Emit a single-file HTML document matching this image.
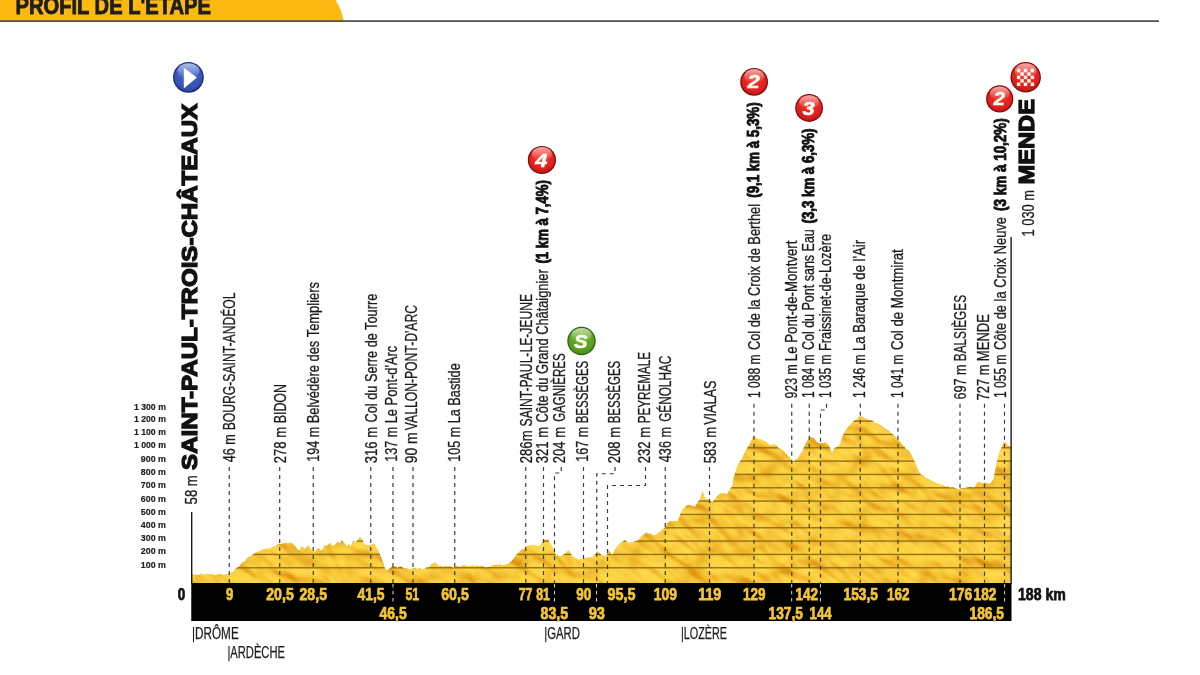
<!DOCTYPE html><html lang="fr"><head><meta charset="utf-8"><title>Profil de l'étape</title>
<style>html,body{margin:0;padding:0;background:#fff}body{width:1200px;height:675px;overflow:hidden;position:relative}svg{position:absolute;left:0;top:0;display:block}text{font-family:'Liberation Sans', sans-serif}</style></head><body>
<svg width="1200" height="675" viewBox="0 0 1200 675">
<defs>
<linearGradient id="gy" x1="0" y1="0" x2="0" y2="1"><stop offset="0" stop-color="#f7cb35"/><stop offset="1" stop-color="#f1bd22"/></linearGradient>
<radialGradient id="gr" cx="0.5" cy="0.35" r="0.7"><stop offset="0" stop-color="#f2352c"/><stop offset="0.7" stop-color="#e21f1d"/><stop offset="1" stop-color="#b81216"/></radialGradient>
<linearGradient id="gl" x1="0" y1="0" x2="0" y2="1"><stop offset="0" stop-color="#fff" stop-opacity="0.6"/><stop offset="1" stop-color="#fff" stop-opacity="0"/></linearGradient>
<radialGradient id="gb" cx="0.5" cy="0.35" r="0.7"><stop offset="0" stop-color="#4c6ccc"/><stop offset="0.7" stop-color="#3854b6"/><stop offset="1" stop-color="#27409a"/></radialGradient>
<radialGradient id="gg" cx="0.5" cy="0.35" r="0.7"><stop offset="0" stop-color="#72b52c"/><stop offset="0.7" stop-color="#5b9f20"/><stop offset="1" stop-color="#468416"/></radialGradient>
<filter id="relief" x="0" y="0" width="100%" height="100%" color-interpolation-filters="sRGB"><feTurbulence type="fractalNoise" baseFrequency="0.032 0.06" numOctaves="2" seed="11" result="n"/><feDiffuseLighting in="n" surfaceScale="5.2" diffuseConstant="1" lighting-color="#fff" result="l"><feDistantLight azimuth="215" elevation="68"/></feDiffuseLighting><feColorMatrix in="l" type="matrix" values="0.35 0 0 0 0.652  0 0.7 0 0 0.15  0 0 0.6 0 -0.312  0 0 0 0 1"/></filter>
<clipPath id="cp"><path d="M191.50 584.00L191.50 574.25L192.82 574.45L194.14 574.64L195.46 574.72L196.79 574.96L198.11 574.63L199.43 574.93L200.75 573.50L202.07 574.19L203.39 574.96L204.71 574.49L206.04 574.89L207.36 573.63L208.68 574.20L210.00 574.25L211.67 574.09L213.33 574.82L215.00 575.00L216.40 575.04L217.80 574.06L219.20 574.31L220.60 574.33L222.00 574.60L223.45 575.20L224.90 574.89L226.35 573.85L227.80 574.80L229.25 574.25L230.75 572.67L232.25 572.44L233.75 571.25L235.31 569.22L236.88 567.58L238.44 567.53L240.00 565.50L241.50 563.54L243.00 562.04L244.50 561.77L246.00 560.10L247.50 558.00L249.00 556.66L250.50 556.74L252.00 555.06L253.50 554.28L255.00 553.00L256.40 551.83L257.80 552.31L259.20 551.21L260.60 550.95L262.00 549.50L263.33 550.05L264.67 549.01L266.00 549.03L267.33 548.63L268.67 548.52L270.00 549.00L271.67 547.30L273.33 546.68L275.00 546.00L276.67 545.50L278.33 543.87L280.00 544.00L281.67 543.95L283.33 543.07L285.00 543.00L286.40 542.70L287.80 543.51L289.20 542.97L290.60 542.71L292.00 543.00L293.50 544.47L295.00 546.00L296.50 548.33L298.00 550.00L300.00 550.00L302.00 546.00L304.00 549.00L306.00 548.00L308.50 545.50L311.00 549.00L313.00 551.50L315.50 551.50L318.00 548.00L319.50 548.79L321.00 551.00L323.00 549.00L324.50 545.50L326.25 546.01L328.00 545.00L330.00 543.00L332.50 546.00L335.00 545.00L336.50 543.00L338.25 542.24L340.00 543.00L342.00 540.50L344.50 543.50L347.00 546.50L349.00 544.00L350.50 547.00L352.50 542.50L353.50 541.00L355.50 543.00L358.00 539.50L360.00 537.00L362.50 539.50L364.00 544.00L365.75 544.90L367.50 545.00L370.00 545.50L371.50 545.05L373.00 543.50L374.50 544.23L376.00 546.50L378.50 551.50L381.00 557.00L383.50 564.00L385.00 569.00L386.50 569.96L388.00 570.00L389.50 568.54L391.00 567.63L392.50 566.25L394.17 566.05L395.83 566.69L397.50 568.00L399.38 566.61L401.25 566.25L403.12 568.23L405.00 568.75L406.50 568.26L408.00 569.16L409.50 569.44L411.00 569.46L412.50 568.75L413.89 568.50L415.28 568.52L416.67 568.79L418.06 569.19L419.44 568.12L420.83 569.15L422.22 569.23L423.61 569.33L425.00 568.75L426.67 567.18L428.33 567.80L430.00 566.25L431.67 564.35L433.33 563.50L435.00 562.50L436.67 563.93L438.33 565.67L440.00 566.25L441.36 566.06L442.73 567.07L444.09 566.53L445.45 566.22L446.82 566.30L448.18 566.14L449.55 566.05L450.91 566.23L452.27 567.17L453.64 567.73L455.00 567.00L456.43 566.24L457.86 565.85L459.29 567.14L460.71 566.20L462.14 565.78L463.57 565.29L465.00 565.50L466.67 565.73L468.33 566.19L470.00 565.75L471.39 565.73L472.78 565.74L474.17 565.21L475.56 566.64L476.94 565.28L478.33 566.07L479.72 566.68L481.11 565.60L482.50 566.25L484.17 566.87L485.83 567.47L487.50 567.00L489.00 566.81L490.50 566.66L492.00 565.17L493.50 565.30L495.00 565.00L496.39 564.38L497.78 565.44L499.17 564.51L500.56 564.70L501.94 565.52L503.33 565.23L504.72 565.37L506.11 564.48L507.50 564.50L509.17 562.98L510.83 561.87L512.50 560.00L514.17 557.88L515.83 555.50L517.50 553.75L518.96 552.35L520.42 550.68L521.88 549.80L523.33 549.53L524.79 548.24L526.25 546.25L527.81 546.14L529.38 545.62L530.94 545.05L532.50 545.00L534.06 544.66L535.62 545.26L537.19 546.39L538.75 546.25L540.31 545.15L541.88 542.65L543.44 541.65L545.00 539.50L546.50 539.94L548.00 539.50L549.50 542.48L551.00 545.10L552.50 547.50L554.38 551.92L556.25 555.50L557.92 555.53L559.58 556.33L561.25 556.25L563.12 554.65L565.00 553.75L566.88 552.10L568.75 550.50L570.62 553.81L572.50 556.25L574.17 557.64L575.83 558.09L577.50 559.50L579.06 560.03L580.62 559.36L582.19 559.07L583.75 558.75L585.21 557.68L586.67 558.24L588.12 557.48L589.58 557.86L591.04 557.23L592.50 557.00L593.88 556.07L595.25 554.36L596.62 553.16L598.00 551.25L599.62 552.88L601.25 555.00L602.92 555.65L604.58 556.21L606.25 556.25L608.75 550.00L610.62 553.03L612.50 555.00L614.38 551.01L616.25 547.50L618.12 545.80L620.00 543.00L621.67 542.59L623.33 541.30L625.00 540.00L626.67 541.76L628.33 542.73L630.00 543.00L631.56 542.59L633.12 542.17L634.69 541.15L636.25 541.25L637.81 540.35L639.38 539.07L640.94 536.90L642.50 535.50L644.38 534.31L646.25 532.50L647.71 533.35L649.17 533.87L650.62 533.47L652.08 534.95L653.54 535.13L655.00 535.50L656.46 534.64L657.92 533.12L659.38 532.32L660.83 531.44L662.29 530.09L663.75 528.75L665.31 527.23L666.88 524.24L668.44 522.58L670.00 521.25L671.50 521.16L673.00 521.49L674.50 520.80L676.00 521.55L677.50 521.25L679.17 517.71L680.83 513.02L682.50 510.00L684.17 508.29L685.83 506.23L687.50 505.00L689.00 504.69L690.50 505.21L692.00 505.91L693.50 506.09L695.00 507.00L696.67 504.01L698.33 501.26L700.00 499.50L702.50 491.25L705.00 498.75L706.50 499.34L708.00 499.86L709.50 500.88L711.00 501.49L712.50 502.00L714.00 499.93L715.50 499.35L717.00 496.25L718.50 495.25L720.00 493.75L721.50 493.40L723.00 493.61L724.50 493.13L726.00 494.28L727.50 493.75L729.17 491.05L730.83 488.01L732.50 486.25L733.75 477.50L735.62 472.06L737.50 466.25L739.17 462.69L740.83 460.49L742.50 457.50L744.17 453.91L745.83 450.96L747.50 447.50L749.06 445.30L750.62 442.13L752.19 438.56L753.75 435.75L755.62 437.75L757.50 438.75L759.00 439.48L760.50 439.54L762.00 439.68L763.50 440.90L765.00 441.25L766.67 442.60L768.33 444.48L770.00 445.00L771.67 445.58L773.33 444.84L775.00 444.50L776.67 445.68L778.33 447.96L780.00 448.75L781.56 449.20L783.12 450.62L784.69 452.61L786.25 453.75L787.81 455.81L789.38 456.93L790.94 459.58L792.50 461.25L794.17 461.04L795.83 459.38L797.50 458.75L799.17 456.14L800.83 453.31L802.50 451.25L804.38 446.54L806.25 442.50L807.88 440.51L809.50 437.00L810.92 436.97L812.33 438.07L813.75 437.50L815.62 440.66L817.50 442.50L819.00 443.28L820.50 443.75L822.00 442.78L823.50 443.35L825.00 442.00L826.88 443.49L828.75 445.00L830.38 449.24L832.00 453.75L833.50 450.34L835.00 447.50L836.67 447.44L838.33 445.82L840.00 445.00L841.88 439.03L843.75 433.75L845.42 431.21L847.08 428.15L848.75 426.25L850.31 424.88L851.88 423.03L853.44 421.23L855.00 420.00L856.38 419.51L857.75 418.65L859.12 416.41L860.50 416.25L861.94 416.93L863.38 417.14L864.81 418.82L866.25 418.75L867.75 419.85L869.25 419.64L870.75 420.33L872.25 420.80L873.75 422.00L875.31 423.53L876.88 423.17L878.44 424.42L880.00 425.00L881.50 425.96L883.00 427.23L884.50 428.17L886.00 429.39L887.50 430.00L889.00 430.64L890.50 432.92L892.00 433.43L893.50 435.05L895.00 436.25L896.50 437.74L898.00 439.42L899.50 441.55L901.00 443.19L902.50 445.00L904.00 446.28L905.50 448.39L907.00 449.65L908.50 450.26L910.00 452.50L911.67 455.44L913.33 459.10L915.00 462.50L916.67 466.92L918.33 470.62L920.00 473.75L921.56 474.89L923.12 475.10L924.69 477.38L926.25 478.00L927.71 478.63L929.17 479.62L930.62 480.58L932.08 481.21L933.54 481.72L935.00 482.50L936.43 483.69L937.86 483.39L939.29 483.93L940.71 485.21L942.14 484.69L943.57 485.39L945.00 486.25L946.43 487.03L947.86 486.06L949.29 487.54L950.71 487.56L952.14 487.39L953.57 487.41L955.00 488.00L956.67 488.70L958.33 489.16L960.00 488.75L961.50 487.93L963.00 488.22L964.50 488.08L966.00 487.75L967.50 487.50L969.00 487.13L970.50 486.75L972.00 487.34L973.50 487.60L975.00 487.00L977.50 482.00L979.17 481.89L980.83 482.73L982.50 483.75L985.00 482.50L986.67 483.43L988.33 483.80L990.00 483.75L991.88 481.51L993.75 478.75L996.25 465.00L998.12 457.37L1000.00 451.25L1001.88 447.23L1003.75 442.50L1006.25 443.00L1007.88 445.39L1009.50 446.25L1011.00 447.00L1011.00 584.00Z"/></clipPath>
</defs>
<path d="M0 0H335.5Q341.5 9 343.5 20.6H0Z" fill="#fdb912"/>
<rect x="0" y="20.4" width="1159" height="1.35" fill="#1d1d1b"/>
<text x="15.5" y="14.3" font-size="24.4" font-weight="700" fill="#1d1d1b" stroke="#1d1d1b" stroke-width="0.9" textLength="195.5" lengthAdjust="spacingAndGlyphs">PROFIL DE L'ÉTAPE</text>
<path d="M191.50 584.00L191.50 574.25L192.82 574.45L194.14 574.64L195.46 574.72L196.79 574.96L198.11 574.63L199.43 574.93L200.75 573.50L202.07 574.19L203.39 574.96L204.71 574.49L206.04 574.89L207.36 573.63L208.68 574.20L210.00 574.25L211.67 574.09L213.33 574.82L215.00 575.00L216.40 575.04L217.80 574.06L219.20 574.31L220.60 574.33L222.00 574.60L223.45 575.20L224.90 574.89L226.35 573.85L227.80 574.80L229.25 574.25L230.75 572.67L232.25 572.44L233.75 571.25L235.31 569.22L236.88 567.58L238.44 567.53L240.00 565.50L241.50 563.54L243.00 562.04L244.50 561.77L246.00 560.10L247.50 558.00L249.00 556.66L250.50 556.74L252.00 555.06L253.50 554.28L255.00 553.00L256.40 551.83L257.80 552.31L259.20 551.21L260.60 550.95L262.00 549.50L263.33 550.05L264.67 549.01L266.00 549.03L267.33 548.63L268.67 548.52L270.00 549.00L271.67 547.30L273.33 546.68L275.00 546.00L276.67 545.50L278.33 543.87L280.00 544.00L281.67 543.95L283.33 543.07L285.00 543.00L286.40 542.70L287.80 543.51L289.20 542.97L290.60 542.71L292.00 543.00L293.50 544.47L295.00 546.00L296.50 548.33L298.00 550.00L300.00 550.00L302.00 546.00L304.00 549.00L306.00 548.00L308.50 545.50L311.00 549.00L313.00 551.50L315.50 551.50L318.00 548.00L319.50 548.79L321.00 551.00L323.00 549.00L324.50 545.50L326.25 546.01L328.00 545.00L330.00 543.00L332.50 546.00L335.00 545.00L336.50 543.00L338.25 542.24L340.00 543.00L342.00 540.50L344.50 543.50L347.00 546.50L349.00 544.00L350.50 547.00L352.50 542.50L353.50 541.00L355.50 543.00L358.00 539.50L360.00 537.00L362.50 539.50L364.00 544.00L365.75 544.90L367.50 545.00L370.00 545.50L371.50 545.05L373.00 543.50L374.50 544.23L376.00 546.50L378.50 551.50L381.00 557.00L383.50 564.00L385.00 569.00L386.50 569.96L388.00 570.00L389.50 568.54L391.00 567.63L392.50 566.25L394.17 566.05L395.83 566.69L397.50 568.00L399.38 566.61L401.25 566.25L403.12 568.23L405.00 568.75L406.50 568.26L408.00 569.16L409.50 569.44L411.00 569.46L412.50 568.75L413.89 568.50L415.28 568.52L416.67 568.79L418.06 569.19L419.44 568.12L420.83 569.15L422.22 569.23L423.61 569.33L425.00 568.75L426.67 567.18L428.33 567.80L430.00 566.25L431.67 564.35L433.33 563.50L435.00 562.50L436.67 563.93L438.33 565.67L440.00 566.25L441.36 566.06L442.73 567.07L444.09 566.53L445.45 566.22L446.82 566.30L448.18 566.14L449.55 566.05L450.91 566.23L452.27 567.17L453.64 567.73L455.00 567.00L456.43 566.24L457.86 565.85L459.29 567.14L460.71 566.20L462.14 565.78L463.57 565.29L465.00 565.50L466.67 565.73L468.33 566.19L470.00 565.75L471.39 565.73L472.78 565.74L474.17 565.21L475.56 566.64L476.94 565.28L478.33 566.07L479.72 566.68L481.11 565.60L482.50 566.25L484.17 566.87L485.83 567.47L487.50 567.00L489.00 566.81L490.50 566.66L492.00 565.17L493.50 565.30L495.00 565.00L496.39 564.38L497.78 565.44L499.17 564.51L500.56 564.70L501.94 565.52L503.33 565.23L504.72 565.37L506.11 564.48L507.50 564.50L509.17 562.98L510.83 561.87L512.50 560.00L514.17 557.88L515.83 555.50L517.50 553.75L518.96 552.35L520.42 550.68L521.88 549.80L523.33 549.53L524.79 548.24L526.25 546.25L527.81 546.14L529.38 545.62L530.94 545.05L532.50 545.00L534.06 544.66L535.62 545.26L537.19 546.39L538.75 546.25L540.31 545.15L541.88 542.65L543.44 541.65L545.00 539.50L546.50 539.94L548.00 539.50L549.50 542.48L551.00 545.10L552.50 547.50L554.38 551.92L556.25 555.50L557.92 555.53L559.58 556.33L561.25 556.25L563.12 554.65L565.00 553.75L566.88 552.10L568.75 550.50L570.62 553.81L572.50 556.25L574.17 557.64L575.83 558.09L577.50 559.50L579.06 560.03L580.62 559.36L582.19 559.07L583.75 558.75L585.21 557.68L586.67 558.24L588.12 557.48L589.58 557.86L591.04 557.23L592.50 557.00L593.88 556.07L595.25 554.36L596.62 553.16L598.00 551.25L599.62 552.88L601.25 555.00L602.92 555.65L604.58 556.21L606.25 556.25L608.75 550.00L610.62 553.03L612.50 555.00L614.38 551.01L616.25 547.50L618.12 545.80L620.00 543.00L621.67 542.59L623.33 541.30L625.00 540.00L626.67 541.76L628.33 542.73L630.00 543.00L631.56 542.59L633.12 542.17L634.69 541.15L636.25 541.25L637.81 540.35L639.38 539.07L640.94 536.90L642.50 535.50L644.38 534.31L646.25 532.50L647.71 533.35L649.17 533.87L650.62 533.47L652.08 534.95L653.54 535.13L655.00 535.50L656.46 534.64L657.92 533.12L659.38 532.32L660.83 531.44L662.29 530.09L663.75 528.75L665.31 527.23L666.88 524.24L668.44 522.58L670.00 521.25L671.50 521.16L673.00 521.49L674.50 520.80L676.00 521.55L677.50 521.25L679.17 517.71L680.83 513.02L682.50 510.00L684.17 508.29L685.83 506.23L687.50 505.00L689.00 504.69L690.50 505.21L692.00 505.91L693.50 506.09L695.00 507.00L696.67 504.01L698.33 501.26L700.00 499.50L702.50 491.25L705.00 498.75L706.50 499.34L708.00 499.86L709.50 500.88L711.00 501.49L712.50 502.00L714.00 499.93L715.50 499.35L717.00 496.25L718.50 495.25L720.00 493.75L721.50 493.40L723.00 493.61L724.50 493.13L726.00 494.28L727.50 493.75L729.17 491.05L730.83 488.01L732.50 486.25L733.75 477.50L735.62 472.06L737.50 466.25L739.17 462.69L740.83 460.49L742.50 457.50L744.17 453.91L745.83 450.96L747.50 447.50L749.06 445.30L750.62 442.13L752.19 438.56L753.75 435.75L755.62 437.75L757.50 438.75L759.00 439.48L760.50 439.54L762.00 439.68L763.50 440.90L765.00 441.25L766.67 442.60L768.33 444.48L770.00 445.00L771.67 445.58L773.33 444.84L775.00 444.50L776.67 445.68L778.33 447.96L780.00 448.75L781.56 449.20L783.12 450.62L784.69 452.61L786.25 453.75L787.81 455.81L789.38 456.93L790.94 459.58L792.50 461.25L794.17 461.04L795.83 459.38L797.50 458.75L799.17 456.14L800.83 453.31L802.50 451.25L804.38 446.54L806.25 442.50L807.88 440.51L809.50 437.00L810.92 436.97L812.33 438.07L813.75 437.50L815.62 440.66L817.50 442.50L819.00 443.28L820.50 443.75L822.00 442.78L823.50 443.35L825.00 442.00L826.88 443.49L828.75 445.00L830.38 449.24L832.00 453.75L833.50 450.34L835.00 447.50L836.67 447.44L838.33 445.82L840.00 445.00L841.88 439.03L843.75 433.75L845.42 431.21L847.08 428.15L848.75 426.25L850.31 424.88L851.88 423.03L853.44 421.23L855.00 420.00L856.38 419.51L857.75 418.65L859.12 416.41L860.50 416.25L861.94 416.93L863.38 417.14L864.81 418.82L866.25 418.75L867.75 419.85L869.25 419.64L870.75 420.33L872.25 420.80L873.75 422.00L875.31 423.53L876.88 423.17L878.44 424.42L880.00 425.00L881.50 425.96L883.00 427.23L884.50 428.17L886.00 429.39L887.50 430.00L889.00 430.64L890.50 432.92L892.00 433.43L893.50 435.05L895.00 436.25L896.50 437.74L898.00 439.42L899.50 441.55L901.00 443.19L902.50 445.00L904.00 446.28L905.50 448.39L907.00 449.65L908.50 450.26L910.00 452.50L911.67 455.44L913.33 459.10L915.00 462.50L916.67 466.92L918.33 470.62L920.00 473.75L921.56 474.89L923.12 475.10L924.69 477.38L926.25 478.00L927.71 478.63L929.17 479.62L930.62 480.58L932.08 481.21L933.54 481.72L935.00 482.50L936.43 483.69L937.86 483.39L939.29 483.93L940.71 485.21L942.14 484.69L943.57 485.39L945.00 486.25L946.43 487.03L947.86 486.06L949.29 487.54L950.71 487.56L952.14 487.39L953.57 487.41L955.00 488.00L956.67 488.70L958.33 489.16L960.00 488.75L961.50 487.93L963.00 488.22L964.50 488.08L966.00 487.75L967.50 487.50L969.00 487.13L970.50 486.75L972.00 487.34L973.50 487.60L975.00 487.00L977.50 482.00L979.17 481.89L980.83 482.73L982.50 483.75L985.00 482.50L986.67 483.43L988.33 483.80L990.00 483.75L991.88 481.51L993.75 478.75L996.25 465.00L998.12 457.37L1000.00 451.25L1001.88 447.23L1003.75 442.50L1006.25 443.00L1007.88 445.39L1009.50 446.25L1011.00 447.00L1011.00 584.00Z" fill="url(#gy)"/>
<g clip-path="url(#cp)"><rect x="-100" y="100" width="1400" height="800" transform="rotate(38 600 500)" fill="none" filter="url(#relief)"/>
<rect x="190" y="567.07" width="822" height="1.4" fill="#94700f"/>
<rect x="190" y="553.74" width="822" height="1.4" fill="#94700f"/>
<rect x="190" y="540.41" width="822" height="1.4" fill="#94700f"/>
<rect x="190" y="527.08" width="822" height="1.4" fill="#94700f"/>
<rect x="190" y="513.75" width="822" height="1.4" fill="#94700f"/>
<rect x="190" y="500.42" width="822" height="1.4" fill="#94700f"/>
<rect x="190" y="487.09" width="822" height="1.4" fill="#94700f"/>
<rect x="190" y="473.76" width="822" height="1.4" fill="#94700f"/>
<rect x="190" y="460.43" width="822" height="1.4" fill="#94700f"/>
<rect x="190" y="447.10" width="822" height="1.4" fill="#94700f"/>
<rect x="190" y="433.77" width="822" height="1.4" fill="#94700f"/>
<rect x="190" y="420.44" width="822" height="1.4" fill="#94700f"/>
</g>
<polyline points="229.25,467.00 229.25,583.00" fill="none" stroke="#3c3c3c" stroke-width="1.2" stroke-dasharray="4 4"/>
<polyline points="279.70,467.00 279.70,583.00" fill="none" stroke="#3c3c3c" stroke-width="1.2" stroke-dasharray="4 4"/>
<polyline points="313.25,467.00 313.25,583.00" fill="none" stroke="#3c3c3c" stroke-width="1.2" stroke-dasharray="4 4"/>
<polyline points="370.75,467.00 370.75,583.00" fill="none" stroke="#3c3c3c" stroke-width="1.2" stroke-dasharray="4 4"/>
<polyline points="393.00,467.00 393.00,583.00" fill="none" stroke="#3c3c3c" stroke-width="1.2" stroke-dasharray="4 4"/>
<polyline points="413.00,467.00 413.00,583.00" fill="none" stroke="#3c3c3c" stroke-width="1.2" stroke-dasharray="4 4"/>
<polyline points="454.75,467.00 454.75,583.00" fill="none" stroke="#3c3c3c" stroke-width="1.2" stroke-dasharray="4 4"/>
<polyline points="525.75,467.00 525.75,583.00" fill="none" stroke="#3c3c3c" stroke-width="1.2" stroke-dasharray="4 4"/>
<polyline points="543.50,467.00 543.50,583.00" fill="none" stroke="#3c3c3c" stroke-width="1.2" stroke-dasharray="4 4"/>
<polyline points="561.25,467.00 561.25,473.00 554.50,473.00 554.50,583.00" fill="none" stroke="#3c3c3c" stroke-width="1.2" stroke-dasharray="4 4"/>
<polyline points="583.50,467.00 583.50,583.00" fill="none" stroke="#3c3c3c" stroke-width="1.2" stroke-dasharray="4 4"/>
<polyline points="615.00,467.00 615.00,473.75 596.75,473.75 596.75,583.00" fill="none" stroke="#3c3c3c" stroke-width="1.2" stroke-dasharray="4 4"/>
<polyline points="645.50,467.00 645.50,485.50 607.50,485.50 607.50,583.00" fill="none" stroke="#3c3c3c" stroke-width="1.2" stroke-dasharray="4 4"/>
<polyline points="665.25,467.00 665.25,583.00" fill="none" stroke="#3c3c3c" stroke-width="1.2" stroke-dasharray="4 4"/>
<polyline points="709.50,467.00 709.50,583.00" fill="none" stroke="#3c3c3c" stroke-width="1.2" stroke-dasharray="4 4"/>
<polyline points="754.00,403.75 754.00,583.00" fill="none" stroke="#3c3c3c" stroke-width="1.2" stroke-dasharray="4 4"/>
<polyline points="791.75,403.75 791.75,583.00" fill="none" stroke="#3c3c3c" stroke-width="1.2" stroke-dasharray="4 4"/>
<polyline points="809.25,403.75 809.25,583.00" fill="none" stroke="#3c3c3c" stroke-width="1.2" stroke-dasharray="4 4"/>
<polyline points="826.50,403.75 826.50,410.00 820.50,410.00 820.50,583.00" fill="none" stroke="#3c3c3c" stroke-width="1.2" stroke-dasharray="4 4"/>
<polyline points="860.25,403.75 860.25,583.00" fill="none" stroke="#3c3c3c" stroke-width="1.2" stroke-dasharray="4 4"/>
<polyline points="898.00,403.75 898.00,583.00" fill="none" stroke="#3c3c3c" stroke-width="1.2" stroke-dasharray="4 4"/>
<polyline points="960.00,403.75 960.00,583.00" fill="none" stroke="#3c3c3c" stroke-width="1.2" stroke-dasharray="4 4"/>
<polyline points="984.50,403.75 984.50,583.00" fill="none" stroke="#3c3c3c" stroke-width="1.2" stroke-dasharray="4 4"/>
<polyline points="1004.50,403.75 1004.50,583.00" fill="none" stroke="#3c3c3c" stroke-width="1.2" stroke-dasharray="4 4"/>
<rect x="191.25" y="583.00" width="820.25" height="38.00" fill="#000"/>
<line x1="393.00" y1="584.00" x2="393.00" y2="602.00" stroke="#d8d8d8" stroke-width="1" stroke-dasharray="3.5 3.5"/>
<line x1="554.50" y1="584.00" x2="554.50" y2="602.00" stroke="#d8d8d8" stroke-width="1" stroke-dasharray="3.5 3.5"/>
<line x1="596.50" y1="584.00" x2="596.50" y2="602.00" stroke="#d8d8d8" stroke-width="1" stroke-dasharray="3.5 3.5"/>
<line x1="791.70" y1="584.00" x2="791.70" y2="602.00" stroke="#d8d8d8" stroke-width="1" stroke-dasharray="3.5 3.5"/>
<line x1="820.40" y1="584.00" x2="820.40" y2="602.00" stroke="#d8d8d8" stroke-width="1" stroke-dasharray="3.5 3.5"/>
<line x1="1004.60" y1="584.00" x2="1004.60" y2="602.00" stroke="#d8d8d8" stroke-width="1" stroke-dasharray="3.5 3.5"/>
<rect x="191" y="512" width="1.4" height="72" fill="#1d1d1b"/>
<rect x="1010.4" y="237" width="1.4" height="347" fill="#1d1d1b"/>
<text x="225.90" y="599.80" font-size="17" font-weight="700" fill="#f5c633" stroke="#f5c633" stroke-width="0.75" textLength="7.30" lengthAdjust="spacingAndGlyphs">9</text>
<text x="266.25" y="599.80" font-size="17" font-weight="700" fill="#f5c633" stroke="#f5c633" stroke-width="0.75" textLength="27.50" lengthAdjust="spacingAndGlyphs">20,5</text>
<text x="299.50" y="599.80" font-size="17" font-weight="700" fill="#f5c633" stroke="#f5c633" stroke-width="0.75" textLength="27.50" lengthAdjust="spacingAndGlyphs">28,5</text>
<text x="357.50" y="599.80" font-size="17" font-weight="700" fill="#f5c633" stroke="#f5c633" stroke-width="0.75" textLength="27.00" lengthAdjust="spacingAndGlyphs">41,5</text>
<text x="405.50" y="599.80" font-size="17" font-weight="700" fill="#f5c633" stroke="#f5c633" stroke-width="0.75" textLength="13.75" lengthAdjust="spacingAndGlyphs">51</text>
<text x="441.25" y="599.80" font-size="17" font-weight="700" fill="#f5c633" stroke="#f5c633" stroke-width="0.75" textLength="27.50" lengthAdjust="spacingAndGlyphs">60,5</text>
<text x="518.75" y="599.80" font-size="17" font-weight="700" fill="#f5c633" stroke="#f5c633" stroke-width="0.75" textLength="13.75" lengthAdjust="spacingAndGlyphs">77</text>
<text x="536.25" y="599.80" font-size="17" font-weight="700" fill="#f5c633" stroke="#f5c633" stroke-width="0.75" textLength="13.75" lengthAdjust="spacingAndGlyphs">81</text>
<text x="576.25" y="599.80" font-size="17" font-weight="700" fill="#f5c633" stroke="#f5c633" stroke-width="0.75" textLength="15.00" lengthAdjust="spacingAndGlyphs">90</text>
<text x="607.50" y="599.80" font-size="17" font-weight="700" fill="#f5c633" stroke="#f5c633" stroke-width="0.75" textLength="28.00" lengthAdjust="spacingAndGlyphs">95,5</text>
<text x="653.75" y="599.80" font-size="17" font-weight="700" fill="#f5c633" stroke="#f5c633" stroke-width="0.75" textLength="23.25" lengthAdjust="spacingAndGlyphs">109</text>
<text x="698.25" y="599.80" font-size="17" font-weight="700" fill="#f5c633" stroke="#f5c633" stroke-width="0.75" textLength="23.00" lengthAdjust="spacingAndGlyphs">119</text>
<text x="743.00" y="599.80" font-size="17" font-weight="700" fill="#f5c633" stroke="#f5c633" stroke-width="0.75" textLength="22.50" lengthAdjust="spacingAndGlyphs">129</text>
<text x="795.50" y="599.80" font-size="17" font-weight="700" fill="#f5c633" stroke="#f5c633" stroke-width="0.75" textLength="22.50" lengthAdjust="spacingAndGlyphs">142</text>
<text x="843.50" y="599.80" font-size="17" font-weight="700" fill="#f5c633" stroke="#f5c633" stroke-width="0.75" textLength="34.50" lengthAdjust="spacingAndGlyphs">153,5</text>
<text x="887.00" y="599.80" font-size="17" font-weight="700" fill="#f5c633" stroke="#f5c633" stroke-width="0.75" textLength="22.50" lengthAdjust="spacingAndGlyphs">162</text>
<text x="949.10" y="599.80" font-size="17" font-weight="700" fill="#f5c633" stroke="#f5c633" stroke-width="0.75" textLength="23.20" lengthAdjust="spacingAndGlyphs">176</text>
<text x="973.60" y="599.80" font-size="17" font-weight="700" fill="#f5c633" stroke="#f5c633" stroke-width="0.75" textLength="22.90" lengthAdjust="spacingAndGlyphs">182</text>
<text x="379.50" y="618.70" font-size="17" font-weight="700" fill="#f5c633" stroke="#f5c633" stroke-width="0.75" textLength="27.25" lengthAdjust="spacingAndGlyphs">46,5</text>
<text x="540.50" y="618.70" font-size="17" font-weight="700" fill="#f5c633" stroke="#f5c633" stroke-width="0.75" textLength="27.75" lengthAdjust="spacingAndGlyphs">83,5</text>
<text x="588.75" y="618.70" font-size="17" font-weight="700" fill="#f5c633" stroke="#f5c633" stroke-width="0.75" textLength="16.25" lengthAdjust="spacingAndGlyphs">93</text>
<text x="768.50" y="618.70" font-size="17" font-weight="700" fill="#f5c633" stroke="#f5c633" stroke-width="0.75" textLength="34.50" lengthAdjust="spacingAndGlyphs">137,5</text>
<text x="809.60" y="618.70" font-size="17" font-weight="700" fill="#f5c633" stroke="#f5c633" stroke-width="0.75" textLength="21.90" lengthAdjust="spacingAndGlyphs">144</text>
<text x="969.50" y="618.70" font-size="17" font-weight="700" fill="#f5c633" stroke="#f5c633" stroke-width="0.75" textLength="34.50" lengthAdjust="spacingAndGlyphs">186,5</text>
<text x="177.8" y="599.7" font-size="17" font-weight="700" fill="#111" stroke="#111" stroke-width="0.75" textLength="7.5" lengthAdjust="spacingAndGlyphs">0</text>
<text x="1018" y="599.8" font-size="17" font-weight="700" fill="#111" stroke="#111" stroke-width="0.75" textLength="47.8" lengthAdjust="spacingAndGlyphs">188 km</text>
<text x="133.90" y="410.20" font-size="9.7" font-weight="700" fill="#222" stroke="#222" stroke-width="0.2" textLength="32.00" lengthAdjust="spacingAndGlyphs">1 300 m</text>
<text x="133.90" y="421.90" font-size="9.7" font-weight="700" fill="#222" stroke="#222" stroke-width="0.2" textLength="32.00" lengthAdjust="spacingAndGlyphs">1 200 m</text>
<text x="133.90" y="435.30" font-size="9.7" font-weight="700" fill="#222" stroke="#222" stroke-width="0.2" textLength="32.00" lengthAdjust="spacingAndGlyphs">1 100 m</text>
<text x="133.90" y="448.10" font-size="9.7" font-weight="700" fill="#222" stroke="#222" stroke-width="0.2" textLength="32.00" lengthAdjust="spacingAndGlyphs">1 000 m</text>
<text x="140.80" y="461.60" font-size="9.7" font-weight="700" fill="#222" stroke="#222" stroke-width="0.2" textLength="25.10" lengthAdjust="spacingAndGlyphs">900 m</text>
<text x="140.80" y="474.90" font-size="9.7" font-weight="700" fill="#222" stroke="#222" stroke-width="0.2" textLength="25.10" lengthAdjust="spacingAndGlyphs">800 m</text>
<text x="140.80" y="488.00" font-size="9.7" font-weight="700" fill="#222" stroke="#222" stroke-width="0.2" textLength="25.10" lengthAdjust="spacingAndGlyphs">700 m</text>
<text x="140.80" y="501.70" font-size="9.7" font-weight="700" fill="#222" stroke="#222" stroke-width="0.2" textLength="25.10" lengthAdjust="spacingAndGlyphs">600 m</text>
<text x="140.80" y="514.80" font-size="9.7" font-weight="700" fill="#222" stroke="#222" stroke-width="0.2" textLength="25.10" lengthAdjust="spacingAndGlyphs">500 m</text>
<text x="140.80" y="528.30" font-size="9.7" font-weight="700" fill="#222" stroke="#222" stroke-width="0.2" textLength="25.10" lengthAdjust="spacingAndGlyphs">400 m</text>
<text x="140.80" y="541.30" font-size="9.7" font-weight="700" fill="#222" stroke="#222" stroke-width="0.2" textLength="25.10" lengthAdjust="spacingAndGlyphs">300 m</text>
<text x="140.80" y="554.40" font-size="9.7" font-weight="700" fill="#222" stroke="#222" stroke-width="0.2" textLength="25.10" lengthAdjust="spacingAndGlyphs">200 m</text>
<text x="140.80" y="567.70" font-size="9.7" font-weight="700" fill="#222" stroke="#222" stroke-width="0.2" textLength="25.10" lengthAdjust="spacingAndGlyphs">100 m</text>
<text x="192.00" y="638.70" font-size="15.6" fill="#1d1d1b" stroke="#1d1d1b" stroke-width="0.25" textLength="46.70" lengthAdjust="spacingAndGlyphs">|DRÔME</text>
<text x="227.40" y="657.80" font-size="15.6" fill="#1d1d1b" stroke="#1d1d1b" stroke-width="0.25" textLength="57.60" lengthAdjust="spacingAndGlyphs">|ARDÈCHE</text>
<text x="544.20" y="638.70" font-size="15.6" fill="#1d1d1b" stroke="#1d1d1b" stroke-width="0.25" textLength="35.80" lengthAdjust="spacingAndGlyphs">|GARD</text>
<text x="681.00" y="638.70" font-size="15.6" fill="#1d1d1b" stroke="#1d1d1b" stroke-width="0.25" textLength="46.00" lengthAdjust="spacingAndGlyphs">|LOZÈRE</text>
<text transform="translate(235.20 462.20) rotate(-90)" font-size="16" fill="#1d1d1b" stroke="#1d1d1b" stroke-width="0.3" textLength="27.95" lengthAdjust="spacingAndGlyphs">46 m</text>
<text transform="translate(235.20 430.25) rotate(-90)" font-size="16" fill="#1d1d1b" stroke="#1d1d1b" stroke-width="0.3" textLength="137.75" lengthAdjust="spacingAndGlyphs">BOURG-SAINT-ANDÉOL</text>
<text transform="translate(285.60 463.20) rotate(-90)" font-size="16" fill="#1d1d1b" stroke="#1d1d1b" stroke-width="0.3" textLength="36.25" lengthAdjust="spacingAndGlyphs">278 m</text>
<text transform="translate(285.60 423.35) rotate(-90)" font-size="16" fill="#1d1d1b" stroke="#1d1d1b" stroke-width="0.3" textLength="39.35" lengthAdjust="spacingAndGlyphs">BIDON</text>
<text transform="translate(319.20 461.70) rotate(-90)" font-size="16" fill="#1d1d1b" stroke="#1d1d1b" stroke-width="0.3" textLength="34.75" lengthAdjust="spacingAndGlyphs">194 m</text>
<text transform="translate(319.20 423.35) rotate(-90)" font-size="16" fill="#1d1d1b" stroke="#1d1d1b" stroke-width="0.3" textLength="141.35" lengthAdjust="spacingAndGlyphs">Belvédère des Templiers</text>
<text transform="translate(376.70 463.20) rotate(-90)" font-size="16" fill="#1d1d1b" stroke="#1d1d1b" stroke-width="0.3" textLength="36.25" lengthAdjust="spacingAndGlyphs">316 m</text>
<text transform="translate(376.70 422.45) rotate(-90)" font-size="16" fill="#1d1d1b" stroke="#1d1d1b" stroke-width="0.3" textLength="128.70" lengthAdjust="spacingAndGlyphs">Col du Serre de Tourre</text>
<text transform="translate(397.30 461.70) rotate(-90)" font-size="16" fill="#1d1d1b" stroke="#1d1d1b" stroke-width="0.3" textLength="34.75" lengthAdjust="spacingAndGlyphs">137 m</text>
<text transform="translate(397.30 423.35) rotate(-90)" font-size="16" fill="#1d1d1b" stroke="#1d1d1b" stroke-width="0.3" textLength="77.60" lengthAdjust="spacingAndGlyphs">Le Pont-d'Arc</text>
<text transform="translate(417.30 463.20) rotate(-90)" font-size="16" fill="#1d1d1b" stroke="#1d1d1b" stroke-width="0.3" textLength="30.90" lengthAdjust="spacingAndGlyphs">90 m</text>
<text transform="translate(417.30 430.20) rotate(-90)" font-size="16" fill="#1d1d1b" stroke="#1d1d1b" stroke-width="0.3" textLength="125.20" lengthAdjust="spacingAndGlyphs">VALLON-PONT-D'ARC</text>
<text transform="translate(459.60 461.70) rotate(-90)" font-size="16" fill="#1d1d1b" stroke="#1d1d1b" stroke-width="0.3" textLength="34.75" lengthAdjust="spacingAndGlyphs">105 m</text>
<text transform="translate(459.60 423.35) rotate(-90)" font-size="16" fill="#1d1d1b" stroke="#1d1d1b" stroke-width="0.3" textLength="60.10" lengthAdjust="spacingAndGlyphs">La Bastide</text>
<text transform="translate(531.80 463.20) rotate(-90)" font-size="16" fill="#1d1d1b" stroke="#1d1d1b" stroke-width="0.3" textLength="32.75" lengthAdjust="spacingAndGlyphs">286m</text>
<text transform="translate(531.80 426.45) rotate(-90)" font-size="16" fill="#1d1d1b" stroke="#1d1d1b" stroke-width="0.3" textLength="132.45" lengthAdjust="spacingAndGlyphs">SAINT-PAUL-LE-JEUNE</text>
<text transform="translate(548.10 463.20) rotate(-90)" font-size="16" fill="#1d1d1b" stroke="#1d1d1b" stroke-width="0.3" textLength="36.25" lengthAdjust="spacingAndGlyphs">321 m</text>
<text transform="translate(548.10 422.45) rotate(-90)" font-size="16" fill="#1d1d1b" stroke="#1d1d1b" stroke-width="0.3" textLength="153.15" lengthAdjust="spacingAndGlyphs">Côte du Grand Châtaignier</text>
<text transform="translate(548.10 263.60) rotate(-90)" font-size="16" font-weight="700" fill="#111" stroke="#111" stroke-width="0.9" textLength="83.60" lengthAdjust="spacingAndGlyphs">(1 km à 7,4%)</text>
<text transform="translate(565.30 463.20) rotate(-90)" font-size="16" fill="#1d1d1b" stroke="#1d1d1b" stroke-width="0.3" textLength="36.25" lengthAdjust="spacingAndGlyphs">204 m</text>
<text transform="translate(565.30 421.85) rotate(-90)" font-size="16" fill="#1d1d1b" stroke="#1d1d1b" stroke-width="0.3" textLength="68.60" lengthAdjust="spacingAndGlyphs">GAGNIÈRES</text>
<text transform="translate(587.50 461.70) rotate(-90)" font-size="16" fill="#1d1d1b" stroke="#1d1d1b" stroke-width="0.3" textLength="34.75" lengthAdjust="spacingAndGlyphs">167 m</text>
<text transform="translate(587.50 423.35) rotate(-90)" font-size="16" fill="#1d1d1b" stroke="#1d1d1b" stroke-width="0.3" textLength="62.60" lengthAdjust="spacingAndGlyphs">BESSÈGES</text>
<text transform="translate(620.30 463.20) rotate(-90)" font-size="16" fill="#1d1d1b" stroke="#1d1d1b" stroke-width="0.3" textLength="36.25" lengthAdjust="spacingAndGlyphs">208 m</text>
<text transform="translate(620.30 423.35) rotate(-90)" font-size="16" fill="#1d1d1b" stroke="#1d1d1b" stroke-width="0.3" textLength="62.60" lengthAdjust="spacingAndGlyphs">BESSÈGES</text>
<text transform="translate(650.00 463.20) rotate(-90)" font-size="16" fill="#1d1d1b" stroke="#1d1d1b" stroke-width="0.3" textLength="36.25" lengthAdjust="spacingAndGlyphs">232 m</text>
<text transform="translate(650.00 423.35) rotate(-90)" font-size="16" fill="#1d1d1b" stroke="#1d1d1b" stroke-width="0.3" textLength="71.35" lengthAdjust="spacingAndGlyphs">PEYREMALE</text>
<text transform="translate(670.90 462.20) rotate(-90)" font-size="16" fill="#1d1d1b" stroke="#1d1d1b" stroke-width="0.3" textLength="35.25" lengthAdjust="spacingAndGlyphs">436 m</text>
<text transform="translate(670.90 421.85) rotate(-90)" font-size="16" fill="#1d1d1b" stroke="#1d1d1b" stroke-width="0.3" textLength="66.10" lengthAdjust="spacingAndGlyphs">GÉNOLHAC</text>
<text transform="translate(715.50 463.20) rotate(-90)" font-size="16" fill="#1d1d1b" stroke="#1d1d1b" stroke-width="0.3" textLength="36.25" lengthAdjust="spacingAndGlyphs">583 m</text>
<text transform="translate(715.50 424.85) rotate(-90)" font-size="16" fill="#1d1d1b" stroke="#1d1d1b" stroke-width="0.3" textLength="44.35" lengthAdjust="spacingAndGlyphs">VIALAS</text>
<text transform="translate(759.70 398.00) rotate(-90)" font-size="16" fill="#1d1d1b" stroke="#1d1d1b" stroke-width="0.3" textLength="43.40" lengthAdjust="spacingAndGlyphs">1 088 m</text>
<text transform="translate(759.70 350.10) rotate(-90)" font-size="16" fill="#1d1d1b" stroke="#1d1d1b" stroke-width="0.3" textLength="146.10" lengthAdjust="spacingAndGlyphs">Col de la Croix de Berthel</text>
<text transform="translate(759.00 197.75) rotate(-90)" font-size="16" font-weight="700" fill="#111" stroke="#111" stroke-width="0.9" textLength="95.35" lengthAdjust="spacingAndGlyphs">(9,1 km à 5,3%)</text>
<text transform="translate(796.90 398.50) rotate(-90)" font-size="16" fill="#1d1d1b" stroke="#1d1d1b" stroke-width="0.3" textLength="34.10" lengthAdjust="spacingAndGlyphs">923 m</text>
<text transform="translate(796.90 361.20) rotate(-90)" font-size="16" fill="#1d1d1b" stroke="#1d1d1b" stroke-width="0.3" textLength="120.65" lengthAdjust="spacingAndGlyphs">Le Pont-de-Montvert</text>
<text transform="translate(813.90 398.00) rotate(-90)" font-size="16" fill="#1d1d1b" stroke="#1d1d1b" stroke-width="0.3" textLength="43.40" lengthAdjust="spacingAndGlyphs">1 084 m</text>
<text transform="translate(813.90 350.10) rotate(-90)" font-size="16" fill="#1d1d1b" stroke="#1d1d1b" stroke-width="0.3" textLength="120.90" lengthAdjust="spacingAndGlyphs">Col du Pont sans Eau</text>
<text transform="translate(813.80 223.50) rotate(-90)" font-size="16" font-weight="700" fill="#111" stroke="#111" stroke-width="0.9" textLength="95.00" lengthAdjust="spacingAndGlyphs">(3,3 km à 6,3%)</text>
<text transform="translate(830.90 398.00) rotate(-90)" font-size="16" fill="#1d1d1b" stroke="#1d1d1b" stroke-width="0.3" textLength="43.40" lengthAdjust="spacingAndGlyphs">1 035 m</text>
<text transform="translate(830.90 351.00) rotate(-90)" font-size="16" fill="#1d1d1b" stroke="#1d1d1b" stroke-width="0.3" textLength="117.00" lengthAdjust="spacingAndGlyphs">Fraissinet-de-Lozère</text>
<text transform="translate(864.80 398.00) rotate(-90)" font-size="16" fill="#1d1d1b" stroke="#1d1d1b" stroke-width="0.3" textLength="43.40" lengthAdjust="spacingAndGlyphs">1 246 m</text>
<text transform="translate(864.80 351.00) rotate(-90)" font-size="16" fill="#1d1d1b" stroke="#1d1d1b" stroke-width="0.3" textLength="111.00" lengthAdjust="spacingAndGlyphs">La Baraque de l'Air</text>
<text transform="translate(902.50 398.00) rotate(-90)" font-size="16" fill="#1d1d1b" stroke="#1d1d1b" stroke-width="0.3" textLength="43.40" lengthAdjust="spacingAndGlyphs">1 041 m</text>
<text transform="translate(902.50 350.10) rotate(-90)" font-size="16" fill="#1d1d1b" stroke="#1d1d1b" stroke-width="0.3" textLength="100.85" lengthAdjust="spacingAndGlyphs">Col de Montmirat</text>
<text transform="translate(965.80 399.50) rotate(-90)" font-size="16" fill="#1d1d1b" stroke="#1d1d1b" stroke-width="0.3" textLength="35.10" lengthAdjust="spacingAndGlyphs">697 m</text>
<text transform="translate(965.80 361.20) rotate(-90)" font-size="16" fill="#1d1d1b" stroke="#1d1d1b" stroke-width="0.3" textLength="66.20" lengthAdjust="spacingAndGlyphs">BALSIÈGES</text>
<text transform="translate(988.75 400.50) rotate(-90)" font-size="16" fill="#1d1d1b" stroke="#1d1d1b" stroke-width="0.3" textLength="36.10" lengthAdjust="spacingAndGlyphs">727 m</text>
<text transform="translate(988.75 361.20) rotate(-90)" font-size="16" fill="#1d1d1b" stroke="#1d1d1b" stroke-width="0.3" textLength="47.20" lengthAdjust="spacingAndGlyphs">MENDE</text>
<text transform="translate(1005.80 398.00) rotate(-90)" font-size="16" fill="#1d1d1b" stroke="#1d1d1b" stroke-width="0.3" textLength="43.40" lengthAdjust="spacingAndGlyphs">1 055 m</text>
<text transform="translate(1005.80 350.10) rotate(-90)" font-size="16" fill="#1d1d1b" stroke="#1d1d1b" stroke-width="0.3" textLength="133.10" lengthAdjust="spacingAndGlyphs">Côte de la Croix Neuve</text>
<text transform="translate(1005.50 210.90) rotate(-90)" font-size="16" font-weight="700" fill="#111" stroke="#111" stroke-width="0.9" textLength="92.65" lengthAdjust="spacingAndGlyphs">(3 km à 10,2%)</text>
<text transform="translate(197.00 504.40) rotate(-90)" font-size="16" fill="#1d1d1b" stroke="#1d1d1b" stroke-width="0.3" textLength="29.10" lengthAdjust="spacingAndGlyphs">58 m</text>
<text transform="translate(1033.90 236.40) rotate(-90)" font-size="16" fill="#1d1d1b" stroke="#1d1d1b" stroke-width="0.3" textLength="46.30" lengthAdjust="spacingAndGlyphs">1 030 m</text>
<text transform="translate(196.90 469.90) rotate(-90)" font-size="22.2" font-weight="700" fill="#111" stroke="#111" stroke-width="1.3" textLength="366.10" lengthAdjust="spacingAndGlyphs">SAINT-PAUL-TROIS-CHÂTEAUX</text>
<text transform="translate(1033.90 184.60) rotate(-90)" font-size="22.2" font-weight="700" fill="#111" stroke="#111" stroke-width="1.3" textLength="85.70" lengthAdjust="spacingAndGlyphs">MENDE</text>
<g><circle cx="541.90" cy="160.00" r="14.10" fill="#7d0c0f"/><circle cx="541.90" cy="160.00" r="12.85" fill="url(#gr)"/><ellipse cx="541.90" cy="154.08" rx="10.15" ry="7.05" fill="url(#gl)"/><text x="535.20" y="166.50" font-size="18.5" font-weight="700" font-style="italic" fill="#fffdf2" stroke="#fffdf2" stroke-width="0.5" textLength="12.20" lengthAdjust="spacingAndGlyphs">4</text></g>
<g><circle cx="754.10" cy="81.90" r="13.90" fill="#7d0c0f"/><circle cx="754.10" cy="81.90" r="12.65" fill="url(#gr)"/><ellipse cx="754.10" cy="76.06" rx="10.01" ry="6.95" fill="url(#gl)"/><text x="747.40" y="88.40" font-size="18.5" font-weight="700" font-style="italic" fill="#fffdf2" stroke="#fffdf2" stroke-width="0.5" textLength="12.20" lengthAdjust="spacingAndGlyphs">2</text></g>
<g><circle cx="809.10" cy="108.00" r="13.90" fill="#7d0c0f"/><circle cx="809.10" cy="108.00" r="12.65" fill="url(#gr)"/><ellipse cx="809.10" cy="102.16" rx="10.01" ry="6.95" fill="url(#gl)"/><text x="802.40" y="114.50" font-size="18.5" font-weight="700" font-style="italic" fill="#fffdf2" stroke="#fffdf2" stroke-width="0.5" textLength="12.20" lengthAdjust="spacingAndGlyphs">3</text></g>
<g><circle cx="999.70" cy="98.90" r="13.60" fill="#7d0c0f"/><circle cx="999.70" cy="98.90" r="12.35" fill="url(#gr)"/><ellipse cx="999.70" cy="93.19" rx="9.79" ry="6.80" fill="url(#gl)"/><text x="993.40" y="105.00" font-size="17.5" font-weight="700" font-style="italic" fill="#fffdf2" stroke="#fffdf2" stroke-width="0.5" textLength="11.40" lengthAdjust="spacingAndGlyphs">2</text></g>
<g><circle cx="581.50" cy="341.00" r="14.20" fill="#2b6110"/><circle cx="581.50" cy="341.00" r="12.95" fill="url(#gg)"/><ellipse cx="581.50" cy="335.04" rx="10.22" ry="7.10" fill="url(#gl)"/><text x="574.10" y="347.90" font-size="19.0" font-weight="700" font-style="italic" fill="#fffdf2" stroke="#fffdf2" stroke-width="0.5" textLength="13.60" lengthAdjust="spacingAndGlyphs">S</text></g>
<g><circle cx="188.40" cy="77.30" r="15.40" fill="#1a2a6e"/><circle cx="188.40" cy="77.30" r="14.15" fill="url(#gb)"/><ellipse cx="188.40" cy="70.83" rx="11.09" ry="7.70" fill="url(#gl)"/></g>
<path d="M183.8 67.7L196.9 77.6L183.8 88.4Z" fill="#fff"/>
<g><circle cx="1025.70" cy="77.30" r="15.20" fill="#7d0c0f"/><circle cx="1025.70" cy="77.30" r="13.95" fill="url(#gr)"/><ellipse cx="1025.70" cy="70.92" rx="10.94" ry="7.60" fill="url(#gl)"/></g>
<g fill="#fff6e8"><rect x="1016.88" y="68.78" width="3.45" height="3.45"/><rect x="1023.77" y="68.78" width="3.45" height="3.45"/><rect x="1030.67" y="68.78" width="3.45" height="3.45"/><rect x="1020.33" y="72.23" width="3.45" height="3.45"/><rect x="1027.22" y="72.23" width="3.45" height="3.45"/><rect x="1016.88" y="75.68" width="3.45" height="3.45"/><rect x="1023.77" y="75.68" width="3.45" height="3.45"/><rect x="1030.67" y="75.68" width="3.45" height="3.45"/><rect x="1020.33" y="79.12" width="3.45" height="3.45"/><rect x="1027.22" y="79.12" width="3.45" height="3.45"/><rect x="1016.88" y="82.58" width="3.45" height="3.45"/><rect x="1023.77" y="82.58" width="3.45" height="3.45"/><rect x="1030.67" y="82.58" width="3.45" height="3.45"/></g>
</svg></body></html>
